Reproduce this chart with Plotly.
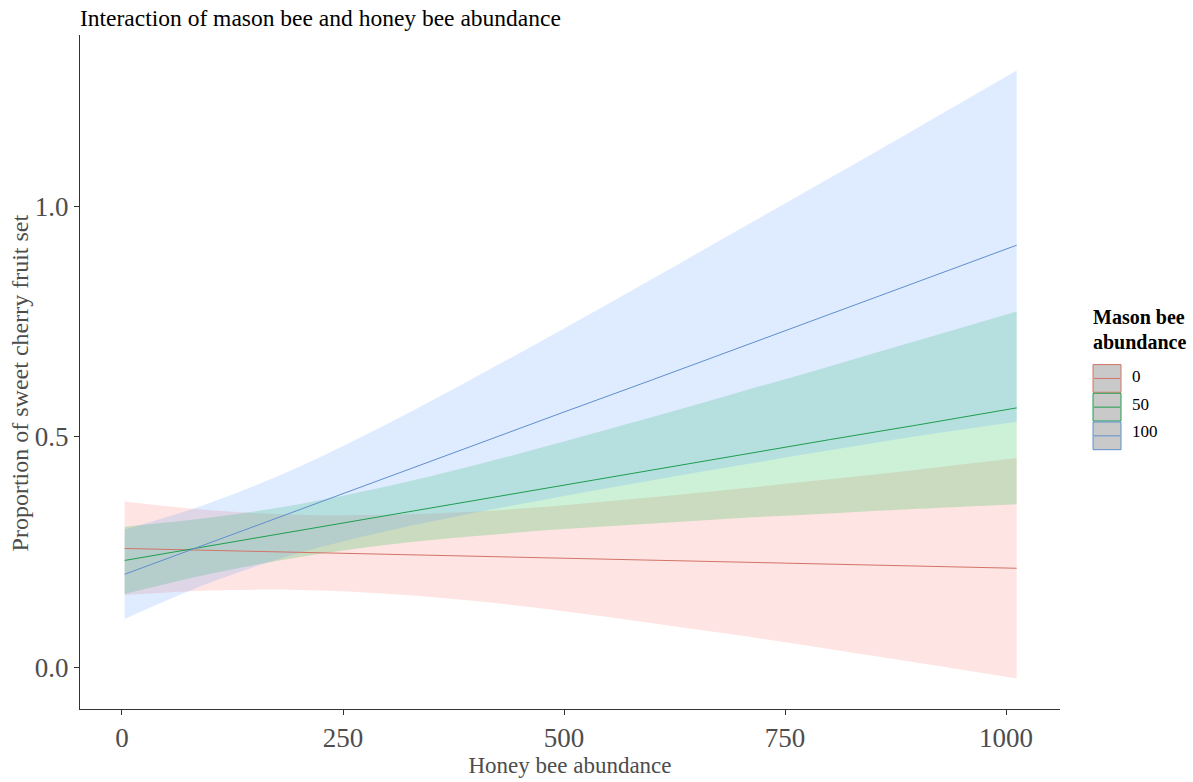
import plotly.graph_objects as go

# Honey bee abundance grid used for the model predictions
honey_bee = [3, 100, 200, 300, 400, 500, 600, 700, 800, 900, 1012]

# Mason bee abundance = 0
fit_0 = [0.258, 0.254, 0.250, 0.245, 0.241, 0.237, 0.233, 0.228, 0.224, 0.220, 0.215]
lo_0 = [0.157, 0.167, 0.168, 0.160, 0.144, 0.122, 0.096, 0.069, 0.040, 0.010, -0.024]
hi_0 = [0.360, 0.341, 0.331, 0.331, 0.338, 0.352, 0.369, 0.388, 0.408, 0.429, 0.454]

# Mason bee abundance = 50
fit_50 = [0.232, 0.264, 0.297, 0.329, 0.362, 0.395, 0.428, 0.461, 0.494, 0.526, 0.563]
lo_50 = [0.159, 0.203, 0.239, 0.266, 0.285, 0.300, 0.312, 0.324, 0.334, 0.344, 0.354]
hi_50 = [0.305, 0.325, 0.354, 0.393, 0.439, 0.490, 0.543, 0.598, 0.653, 0.709, 0.772]

# Mason bee abundance = 100
fit_100 = [0.202, 0.271, 0.341, 0.412, 0.483, 0.554, 0.624, 0.695, 0.766, 0.837, 0.916]
lo_100 = [0.105, 0.184, 0.248, 0.296, 0.336, 0.372, 0.406, 0.439, 0.471, 0.502, 0.533]
hi_100 = [0.299, 0.357, 0.435, 0.528, 0.630, 0.735, 0.843, 0.952, 1.061, 1.171, 1.295]

group_labels = ["0", "50", "100"]
x_ticks = [0, 250, 500, 750, 1000]
y_ticks = [0.0, 0.5, 1.0]
y_tick_text = ["0.0", "0.5", "1.0"]

fill_rgb = [(248, 118, 109), (0, 186, 56), (97, 156, 255)]
line_colors = ["#D27468", "#1E9E4E", "#5F8FCC"]

groups = [(fit_0, lo_0, hi_0), (fit_50, lo_50, hi_50), (fit_100, lo_100, hi_100)]

SERIF = "Liberation Serif, Times New Roman, serif"
W, H = 1193, 782
L, R, T, B = 80, 133, 35, 66

fig = go.Figure()

# confidence ribbons (smoothed edges)
for (fit, lo, hi), rgb in zip(groups, fill_rgb):
    fig.add_trace(go.Scatter(x=honey_bee, y=lo, mode="lines",
                             line=dict(width=0, shape="spline", smoothing=1.0),
                             showlegend=False, hoverinfo="skip"))
    fig.add_trace(go.Scatter(x=honey_bee, y=hi, mode="lines",
                             line=dict(width=0, shape="spline", smoothing=1.0),
                             fill="tonexty",
                             fillcolor="rgba(%d,%d,%d,0.2)" % rgb,
                             showlegend=False, hoverinfo="skip"))

# fitted lines
for (fit, lo, hi), col, lab in zip(groups, line_colors, group_labels):
    fig.add_trace(go.Scatter(x=honey_bee, y=fit, mode="lines",
                             line=dict(color=col, width=1), name=lab,
                             showlegend=False))

# pixel -> paper helpers for the hand-drawn legend and y title
pw = W - L - R
ph = H - T - B


def px(xp):
    return (xp - L) / pw


def py(yp):
    return (H - B - yp) / ph


shapes = []
annotations = []
key_x0, key_x1 = 1093, 1121
key_tops = [368, 397, 426]
key_h = 28
label_mid = [380, 408, 436]
for top, col, lab, lm in zip(key_tops, line_colors, group_labels, label_mid):
    shapes.append(dict(type="rect", xref="paper", yref="paper",
                       x0=px(key_x0), x1=px(key_x1), y0=py(top + key_h), y1=py(top),
                       fillcolor="#C9C9C9", line=dict(color=col, width=1)))
    mid = top + key_h / 2
    shapes.append(dict(type="line", xref="paper", yref="paper",
                       x0=px(key_x0 + 1), x1=px(key_x1 - 1), y0=py(mid), y1=py(mid),
                       line=dict(color=col, width=1)))
    annotations.append(dict(text=lab, xref="paper", yref="paper", x=px(1130), y=py(lm),
                            xanchor="left", yanchor="middle", showarrow=False,
                            font=dict(family=SERIF, size=17, color="black")))

for txt, yy in (("<b>Mason bee</b>", 320), ("<b>abundance</b>", 345)):
    annotations.append(dict(text=txt, xref="paper", yref="paper",
                            x=px(1139), y=py(yy), xanchor="center", yanchor="middle",
                            showarrow=False,
                            font=dict(family=SERIF, size=20, color="black")))

annotations.append(dict(text="Proportion of sweet cherry fruit set", xref="paper", yref="paper",
                        x=px(20), y=py(387), xanchor="center", yanchor="middle",
                        textangle=-90, showarrow=False,
                        font=dict(family=SERIF, size=24, color="#4D4D4D")))

fig.update_layout(
    width=W, height=H, autosize=False,
    margin=dict(l=L, r=R, t=T, b=B),
    paper_bgcolor="white", plot_bgcolor="white",
    title=dict(text="Interaction of mason bee and honey bee abundance",
               x=L / W, xanchor="left", y=1 - 18 / H, yanchor="middle",
               font=dict(family=SERIF, size=23.5, color="black")),
    shapes=shapes, annotations=annotations,
    showlegend=False,
)

fig.update_xaxes(range=[-47.5, 1061], tickvals=x_ticks, ticktext=[str(v) for v in x_ticks],
                 showgrid=False, zeroline=False, showline=True, linecolor="#333333", linewidth=1,
                 ticks="outside", ticklen=5, tickcolor="#333333",
                 tickfont=dict(family=SERIF, size=27, color="#4D4D4D"),
                 title=dict(text="Honey bee abundance", standoff=0,
                            font=dict(family=SERIF, size=23, color="#4D4D4D")))
fig.update_yaxes(range=[-0.0903, 1.372], tickvals=y_ticks, ticktext=y_tick_text,
                 showgrid=False, zeroline=False, showline=True, linecolor="#333333", linewidth=1,
                 ticks="outside", ticklen=5, tickcolor="#333333",
                 tickfont=dict(family=SERIF, size=27, color="#4D4D4D"))

fig.write_html("out.html")
